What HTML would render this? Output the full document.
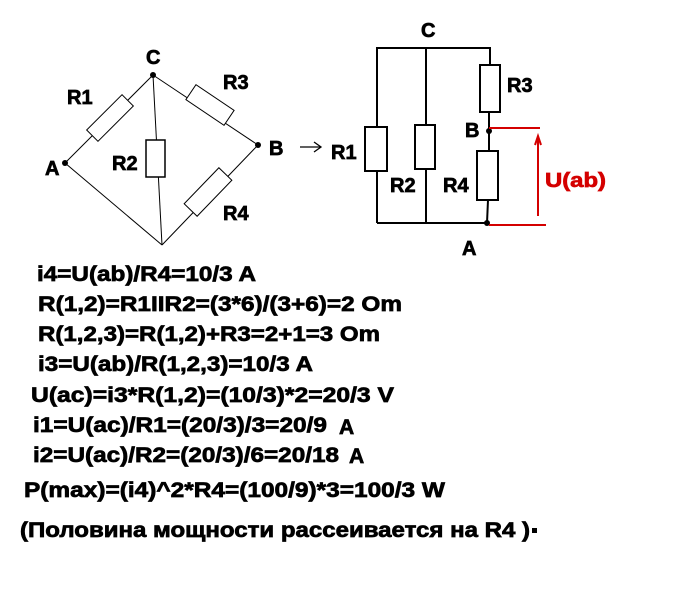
<!DOCTYPE html>
<html><head><meta charset="utf-8"><style>
html,body{margin:0;padding:0;background:#fff;}
svg{display:block;}
text{font-family:"Liberation Sans",Arial,sans-serif;font-weight:bold;}
.t text{stroke:#000;stroke-width:0.7;}
</style></head><body>
<svg width="700" height="600" viewBox="0 0 700 600" xmlns="http://www.w3.org/2000/svg">
<g stroke="#000" stroke-width="1" fill="none">
  <line x1="65" y1="163" x2="153" y2="75"/>
  <line x1="153" y1="75" x2="258" y2="145"/>
  <line x1="258" y1="145" x2="162" y2="245"/>
  <line x1="65" y1="163" x2="162" y2="245"/>
  <line x1="153" y1="75" x2="162" y2="245"/>
  <rect x="-25" y="-8" width="50" height="16" fill="#fff" transform="translate(110,118) rotate(-45)"/>
  <rect x="-23" y="-9" width="46" height="18" fill="#fff" transform="translate(210,105) rotate(34)"/>
  <rect x="-25" y="-9" width="50" height="18" fill="#fff" transform="translate(208,192) rotate(-46)"/>
  <rect x="146" y="140" width="19" height="37" fill="#fff" stroke-width="1.5"/>
</g>
<g fill="#000">
  <circle cx="153" cy="75" r="3"/>
  <circle cx="65" cy="163" r="3"/>
  <circle cx="258" cy="145" r="3"/>
</g>
<g stroke="#000" stroke-width="2" fill="none">
  <polyline points="377,223 377,48 490,48 490,65"/>
  <line x1="426" y1="48" x2="426" y2="223"/>
  <line x1="377" y1="223" x2="487" y2="223"/>
  <line x1="489" y1="112" x2="489" y2="151"/>
  <line x1="488" y1="200" x2="487" y2="223"/>
  <rect x="365" y="127" width="22" height="44" fill="#fff"/>
  <rect x="415" y="125" width="20" height="44" fill="#fff"/>
  <rect x="480" y="65" width="20" height="47" fill="#fff"/>
  <rect x="477" y="151" width="21" height="49" fill="#fff"/>
  <line x1="300" y1="147" x2="320" y2="147" stroke-width="1.3"/>
  <polyline points="314,142 321,147 314,152" stroke-width="1.3"/>
</g>
<g fill="#000"><circle cx="489" cy="131" r="3"/><circle cx="487" cy="223" r="3"/></g>
<g stroke="#d40000" stroke-width="2" fill="none">
  <line x1="489" y1="128" x2="540" y2="128"/>
  <line x1="489" y1="225" x2="546" y2="225"/>
  <line x1="538" y1="216" x2="538" y2="137"/>
  <polyline points="535,145 538,136 541,145"/>
</g>
<g class="t" font-size="20">
  <text x="146" y="64">C</text>
  <text x="67" y="104">R1</text>
  <text x="223" y="89">R3</text>
  <text x="45" y="175">A</text>
  <text x="112" y="170">R2</text>
  <text x="269" y="155">B</text>
  <text x="223" y="220">R4</text>
  <text x="421" y="37">C</text>
  <text x="331" y="159">R1</text>
  <text x="390" y="192">R2</text>
  <text x="507" y="92">R3</text>
  <text x="465" y="137">B</text>
  <text x="443" y="192">R4</text>
  <text x="462" y="255">A</text>
  <text x="545" y="187" fill="#d40000" style="stroke:#d40000" textLength="61" lengthAdjust="spacingAndGlyphs">U(ab)</text>
</g>
<g class="t" font-size="21">
  <text x="37" y="281" textLength="219" lengthAdjust="spacingAndGlyphs">i4=U(ab)/R4=10/3 A</text>
  <text x="38" y="311" textLength="364" lengthAdjust="spacingAndGlyphs">R(1,2)=R1IIR2=(3*6)/(3+6)=2 Om</text>
  <text x="38" y="341" textLength="342" lengthAdjust="spacingAndGlyphs">R(1,2,3)=R(1,2)+R3=2+1=3 Om</text>
  <text x="38" y="371" textLength="275" lengthAdjust="spacingAndGlyphs">i3=U(ab)/R(1,2,3)=10/3 A</text>
  <text x="31" y="402" textLength="363" lengthAdjust="spacingAndGlyphs">U(ac)=i3*R(1,2)=(10/3)*2=20/3 V</text>
  <text x="33" y="432" textLength="294" lengthAdjust="spacingAndGlyphs">i1=U(ac)/R1=(20/3)/3=20/9</text>
  <text x="339" y="434">A</text>
  <text x="33" y="462" textLength="306" lengthAdjust="spacingAndGlyphs">i2=U(ac)/R2=(20/3)/6=20/18</text>
  <text x="349" y="463">A</text>
  <text x="24" y="497" textLength="421" lengthAdjust="spacingAndGlyphs">P(max)=(i4)^2*R4=(100/9)*3=100/3 W</text>
  <text x="20" y="537" textLength="510" lengthAdjust="spacingAndGlyphs">(Половина мощности рассеивается на R4 )</text>
</g>
<rect x="532" y="528" width="5" height="5" fill="#000"/>
</svg>
</body></html>
